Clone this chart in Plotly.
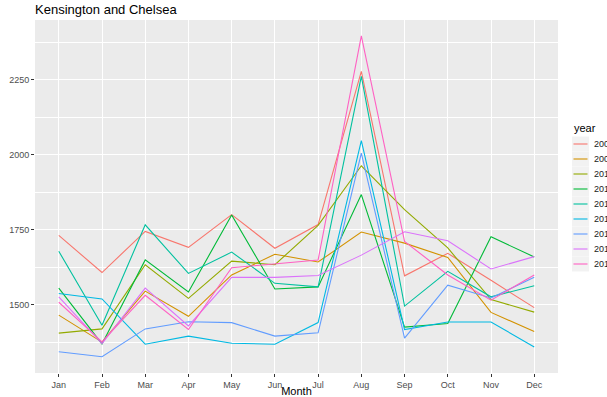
import plotly.graph_objects as go

months = ["Jan", "Feb", "Mar", "Apr", "May", "Jun", "Jul", "Aug", "Sep", "Oct", "Nov", "Dec"]
years = ["2008", "2009", "2010", "2011", "2012", "2013", "2014", "2015", "2016"]
colors = ["#F8766D", "#D39200", "#93AA00", "#00BA38", "#00C19F", "#00B9E3", "#619CFF", "#DB72FB", "#FF61C3"]

v2008 = [1732, 1608, 1745, 1692, 1801, 1689, 1768, 2279, 1597, 1672, 1582, 1491]
v2009 = [1466, 1376, 1546, 1462, 1600, 1669, 1643, 1743, 1706, 1658, 1475, 1411]
v2010 = [1406, 1420, 1634, 1522, 1646, 1634, 1765, 1964, 1818, 1690, 1518, 1476]
v2011 = [1556, 1370, 1650, 1543, 1800, 1553, 1560, 1868, 1426, 1438, 1727, 1660]
v2012 = [1679, 1432, 1767, 1605, 1676, 1572, 1560, 2262, 1496, 1612, 1527, 1564]
v2013 = [1538, 1520, 1369, 1396, 1372, 1369, 1441, 2048, 1418, 1443, 1443, 1360]
v2014 = [1344, 1327, 1420, 1444, 1441, 1396, 1407, 2006, 1389, 1566, 1523, 1592]
v2015 = [1527, 1371, 1556, 1430, 1592, 1592, 1598, 1666, 1744, 1714, 1620, 1661]
v2016 = [1509, 1377, 1532, 1418, 1624, 1636, 1650, 2397, 1712, 1600, 1516, 1600]

series = [v2008, v2009, v2010, v2011, v2012, v2013, v2014, v2015, v2016]
y_ticks = [1500, 1750, 2000, 2250]

fig = go.Figure()
for yr, col, vals in zip(years, colors, series):
    fig.add_trace(go.Scatter(x=months, y=vals, mode="lines", name=yr, showlegend=False,
                             line=dict(color=col, width=1.1)))

W, H = 607, 397
panel_l, panel_r, panel_t, panel_b = 35, 558, 20, 373  # pixels
ml, mr, mt, mb = panel_l, W - panel_r, panel_t, H - panel_b
PW, PH = panel_r - panel_l, panel_b - panel_t


def px(x):
    return (x - panel_l) / PW


def py(y):
    return 1 - (y - panel_t) / PH


# manual ggplot-style legend (keys + labels)
shapes = []
annotations = []
annotations.append(dict(text="year", x=px(572), y=py(128), xref="paper", yref="paper",
                        xanchor="left", yanchor="middle", showarrow=False,
                        font=dict(size=11, color="black")))
for i, (yr, col) in enumerate(zip(years, colors)):
    yc = 144 + i * 15
    shapes.append(dict(type="rect", xref="paper", yref="paper",
                       x0=px(572), x1=px(589), y0=py(yc + 7.5), y1=py(yc - 7.5),
                       fillcolor="#F2F2F2", line=dict(width=0), layer="below"))
    shapes.append(dict(type="line", xref="paper", yref="paper",
                       x0=px(573.5), x1=px(587.5), y0=py(yc), y1=py(yc),
                       line=dict(color=col, width=1.1)))
    annotations.append(dict(text=yr, x=px(592), y=py(yc), xref="paper", yref="paper",
                            xanchor="left", yanchor="middle", showarrow=False,
                            font=dict(size=9, color="#1A1A1A")))

fig.update_layout(
    width=W, height=H,
    margin=dict(l=ml, r=mr, t=mt, b=mb, pad=0),
    paper_bgcolor="white", plot_bgcolor="#EBEBEB",
    font=dict(family="Liberation Sans, Arial, sans-serif", color="#4D4D4D", size=9),
    title=dict(text="Kensington and Chelsea", x=35 / W, xanchor="left", xref="container",
               y=1 - 5 / H, yanchor="top", yref="container",
               font=dict(size=13, color="black")),
    showlegend=False,
    xaxis=dict(type="category", categoryorder="array", categoryarray=months,
               range=[-0.55, 11.55], showgrid=True, gridcolor="white", gridwidth=1.2,
               zeroline=False, ticks="outside", ticklen=3, tickcolor="#333333",
               tickfont=dict(size=9, color="#4D4D4D"), showline=False, automargin=False,
               title=dict(text="Month", font=dict(size=11, color="black"), standoff=1)),
    yaxis=dict(range=[1273, 2450], tickvals=y_ticks, ticktext=[str(t) for t in y_ticks],
               showgrid=True, gridcolor="white", gridwidth=1.2, zeroline=False,
               ticks="outside", ticklen=3, tickcolor="#333333", automargin=False,
               tickfont=dict(size=9, color="#4D4D4D"), showline=False,
               minor=dict(tickvals=[1375, 1625, 1875, 2125, 2375], showgrid=True,
                          gridcolor="white", gridwidth=0.5, ticks="")),
    shapes=shapes,
    annotations=annotations,
)

fig.write_html("out.html", config={"displayModeBar": False},
               post_script="document.body.style.margin='0px';")
